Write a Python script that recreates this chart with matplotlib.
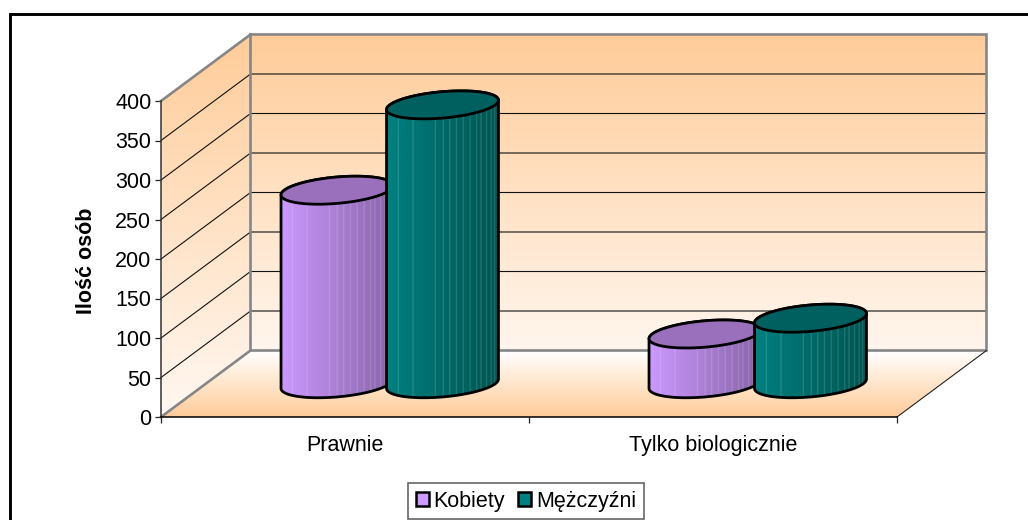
import numpy as np
import matplotlib
matplotlib.use("Agg")
import matplotlib.pyplot as plt
from matplotlib.patches import Polygon, Patch
from matplotlib.colors import to_rgb

# ---- data ----
categories = ["Prawnie", "Tylko biologicznie"]
series_names = ["Kobiety", "Mężczyźni"]
kobiety = [245, 63]
mezczyzni = [353, 83]
y_ticks = [0, 50, 100, 150, 200, 250, 300, 350, 400]
y_label = "Ilość osób"

# ---- styles ----
W, H = 1028, 520
FONT = "Liberation Sans"
FS = 15.5
PEACH = "#FFCC99"
GRAY = "#868686"
side_col = [("#CC99FF", "#8864A8", "#9A70BD"), ("#008080", "#005450", "#006060")]
stripe_fracs = [.10, .23, .43, .50, .56, .62, .68, .74, .80, .84, .89, .93, .96]

fig = plt.figure(figsize=(W / 100, H / 100), dpi=100, facecolor="white")
L, R, T, B = 161, 897, 101, 417
ax = fig.add_axes([L / W, 1 - B / H, (R - L) / W, (B - T) / H])
ax.set_xlim(0, len(categories))
ax.set_ylim(0, 400)
ax.patch.set_visible(False)

# oblique depth of the 3D box, in data units
DX = 89.5 / 368
DY = 66.5 / 0.79
ymax = y_ticks[-1]
xmax = len(categories)


def grad_image(poly, y_bot, y_top, c_top, c_bot, z):
    """vertical gradient clipped to a polygon"""
    t = np.linspace(0, 1, 256)
    a, b = np.array(to_rgb(c_top)), np.array(to_rgb(c_bot))
    img = (a[None, :] + (b - a)[None, :] * t[:, None]).reshape(256, 1, 3)
    im = ax.imshow(img, extent=(poly[:, 0].min(), poly[:, 0].max(), y_bot, y_top),
                   origin="upper", aspect="auto", zorder=z, interpolation="bilinear")
    p = Polygon(poly, closed=True, transform=ax.transData, fc="none", ec="none")
    ax.add_patch(p)
    im.set_clip_path(p)
    im.set_clip_box(fig.bbox)


back = np.array([[DX, DY], [xmax + DX, DY], [xmax + DX, ymax + DY], [DX, ymax + DY]])
side = np.array([[0, 0], [DX, DY], [DX, ymax + DY], [0, ymax]])
floor = np.array([[0, 0], [xmax, 0], [xmax + DX, DY], [DX, DY]])
grad_image(back, DY, ymax + DY, PEACH, "#FFF6EE", 1)
grad_image(side, DY * 0, ymax + DY, PEACH, "#FFF8F2", 1)
grad_image(floor, 0, DY, "#FFFFFF", PEACH, 1)

# gridlines
for v in y_ticks[1:-1]:
    ax.plot([0, DX, xmax + DX], [v, v + DY, v + DY], color="#111111", lw=0.8, zorder=2,
            clip_on=False, solid_joinstyle="miter")
# frame of the walls
ax.plot([0, DX, xmax + DX, xmax + DX, DX, DX], [ymax, ymax + DY, ymax + DY, DY, DY, ymax + DY],
        color=GRAY, lw=1.9, zorder=3, clip_on=False, solid_joinstyle="miter")
ax.plot([0, DX], [0, DY], color=GRAY, lw=1.9, zorder=3, clip_on=False)
ax.plot([xmax, xmax + DX], [0, DY], color="#222222", lw=0.8, zorder=3, clip_on=False)

# cylinders
BW = 105.5 / 368
A = BW / 2
CX = 18.7 / 368
CY = 14 / 0.79


def draw_cyl(x, v, cols, z):
    c0, c1, ctop = cols
    base_y = DY / 2
    top_y = base_y + v
    t = np.linspace(0, 2 * np.pi, 361)
    ex = A * np.cos(t) + CX * np.sin(t)
    ey = CY * np.sin(t)
    # silhouette points: where the ellipse reaches its x extremes
    tr = np.arctan2(CX, A)
    tl = tr + np.pi
    s_up = np.linspace(tl, tr, 120)        # passes through the top of the ellipse
    s_lo = np.linspace(tl, tr + 2 * np.pi, 120)  # passes through the bottom
    upper = np.c_[A * np.cos(s_up) + CX * np.sin(s_up), CY * np.sin(s_up)]
    lower = np.c_[A * np.cos(s_lo) + CX * np.sin(s_lo), CY * np.sin(s_lo)]
    sil = np.vstack([upper + [x, top_y], (lower + [x, base_y])[::-1]])
    x0, x1 = sil[:, 0].min(), sil[:, 0].max()
    # horizontal shading with thin lighter facets
    n = 420
    u = np.linspace(0, 1, n)
    a, b = np.array(to_rgb(c0)), np.array(to_rgb(c1))
    shade = a[None, :] + (b - a)[None, :] * u[:, None]
    for f in stripe_fracs:
        j = int(f * (n - 1))
        shade[j:j + 3] = shade[j:j + 3] * 0.78 + 0.22
    im = ax.imshow(shade[None, :, :], extent=(x0, x1, base_y - CY * 1.2, top_y + CY * 1.2),
                   aspect="auto", zorder=z, interpolation="bilinear")
    body = Polygon(sil, closed=True, fc="none", ec="black", lw=2.0, zorder=z + 0.1, clip_on=False,
                   joinstyle="round")
    ax.add_patch(body)
    im.set_clip_path(body)
    im.set_clip_box(fig.bbox)
    top = Polygon(np.c_[x + ex, top_y + ey], closed=True, fc=ctop, ec="black", lw=2.0,
                  zorder=z + 0.2, clip_on=False)
    ax.add_patch(top)


for i, cat in enumerate(categories):
    cx = i + 0.5 + DX / 2
    draw_cyl(cx - BW / 2, kobiety[i], side_col[0], 4)
    draw_cyl(cx + BW / 2, mezczyzni[i], side_col[1], 5)

ax.set_xlim(0, xmax)
ax.set_ylim(0, ymax)

# axes
for s in ("top", "right"):
    ax.spines[s].set_visible(False)
ax.spines["left"].set_color("#333333")
ax.spines["left"].set_linewidth(1.1)
ax.spines["bottom"].set_color("black")
ax.spines["bottom"].set_linewidth(1.1)
for s in ax.spines.values():
    s.set_zorder(7)
ax.set_yticks(y_ticks)
ax.set_xticks(range(xmax + 1))
ax.set_xticklabels([])
ax.set_xticks(np.arange(xmax) + 0.5, minor=True)
ax.set_xticklabels(categories, minor=True, fontfamily=FONT, fontsize=FS, color="black")
ax.tick_params(axis="x", which="major", length=4, width=0.9, color="#222222", direction="out")
ax.tick_params(axis="x", which="minor", length=0, pad=13)
ax.tick_params(axis="y", length=4.5, width=0.9, color="#222222", pad=2.5)
for lab in ax.get_yticklabels():
    lab.set_fontfamily(FONT)
    lab.set_fontsize(FS)
ax.set_ylabel(y_label, fontfamily=FONT, fontsize=FS, fontweight="bold", labelpad=0, va="center")
ax.yaxis.set_label_coords((87 - L) / (R - L), (B - 261) / (B - T))

# legend
handles = [Patch(fc=side_col[0][0], ec="black", lw=1.8), Patch(fc=side_col[1][0], ec="black", lw=1.8)]
leg = fig.legend(handles, series_names, ncol=2, loc="center",
                 bbox_to_anchor=(526 / W, 1 - 501.2 / H),
                 prop={"family": FONT, "size": FS},
                 frameon=True, fancybox=False, edgecolor="#666666", framealpha=1,
                 handlelength=0.62, handleheight=0.62, handletextpad=0.2, columnspacing=0.6,
                 borderpad=0.36, borderaxespad=0)
leg.get_frame().set_linewidth(1.2)

# outer chart frame: only its left and top sides fall inside the picture
fig.add_artist(plt.Line2D([9.5 / W, 9.5 / W, 1.0], [0, 1 - 13.5 / H, 1 - 13.5 / H],
                          transform=fig.transFigure, color="black", lw=2.1,
                          solid_joinstyle="miter"))

fig.savefig("out.png", dpi=100, facecolor="white")
